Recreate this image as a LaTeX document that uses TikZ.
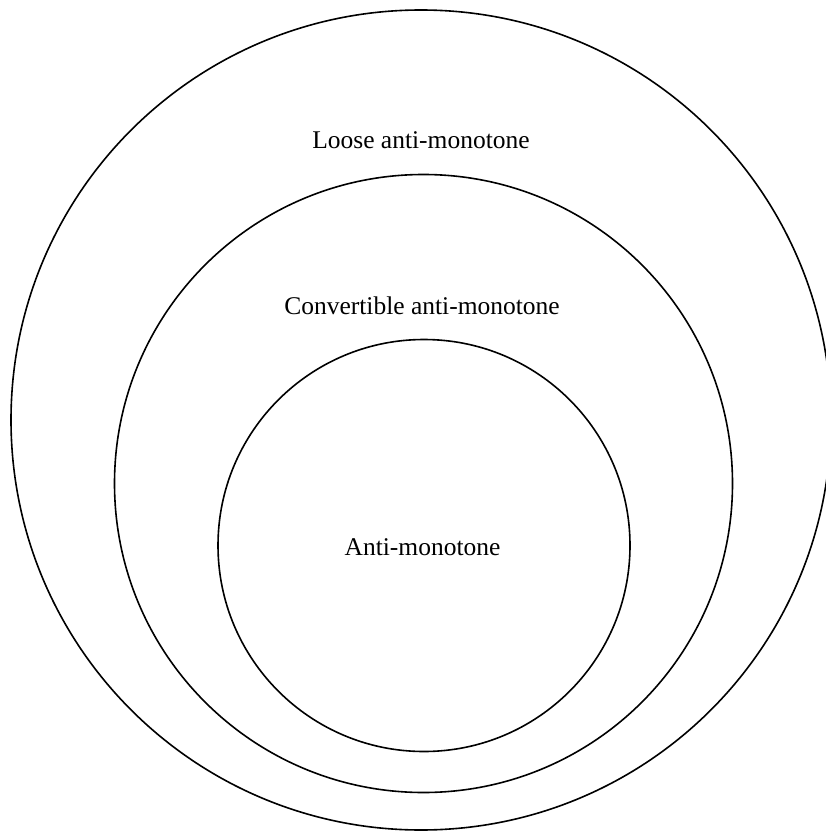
\documentclass[tikz,border=0pt]{standalone}
\usepackage{fontspec}
\setmainfont{Liberation Serif}
\begin{document}
\begin{tikzpicture}[x=1pt,y=-1pt,
  ring/.style={circle,draw=black,line width=1.6pt,inner sep=0pt,outer sep=0pt},
  lbl/.style={anchor=base,font=\fontsize{25.5}{30}\selectfont,inner sep=0pt}]
\useasboundingbox (0,0) rectangle (826,832);
\clip (0,0) rectangle (826,832);
\node[ring,minimum size=820pt] (outer) at (421,420) {};
\node[ring,minimum size=618pt] (middle) at (423.5,483.5) {};
\node[ring,minimum size=412pt] (inner) at (424,545.5) {};
\node[lbl] (tloose) at (421,149) {Loose anti-monotone};
\node[lbl] (tconv) at (422,314) {Convertible anti-monotone};
\node[lbl] (tanti) at (422.5,555) {Anti-monotone};
\end{tikzpicture}
\end{document}
